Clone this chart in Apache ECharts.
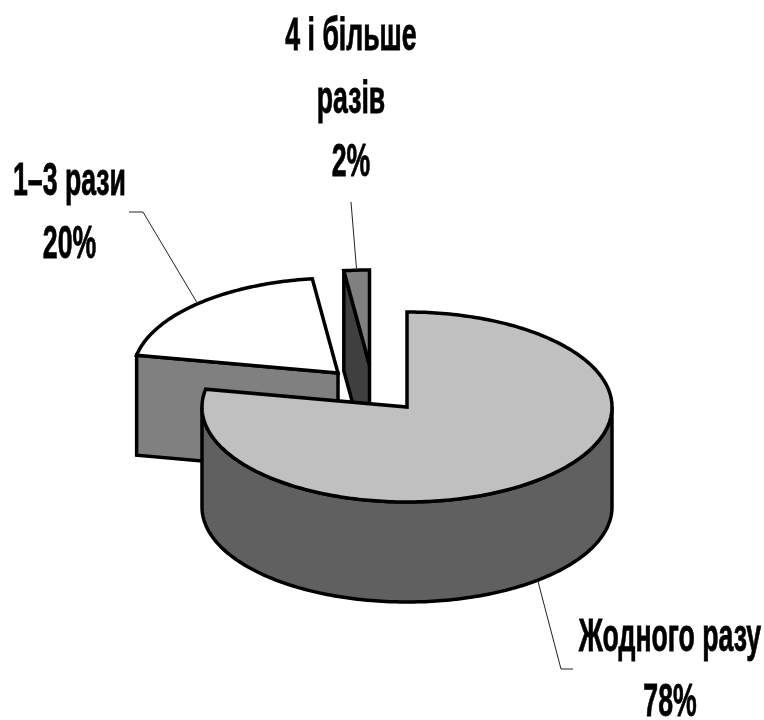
<!DOCTYPE html>
<html>
<head>
<meta charset="utf-8">
<style>
  html, body { margin: 0; padding: 0; background: #fff; }
  #chart { width: 764px; height: 720px; }
</style>
<script src="https://cdn.jsdelivr.net/npm/echarts@6/dist/echarts.min.js"></script>
</head>
<body>
<div id="chart"></div>
<script>
const categories = ['Жодного разу', '1–3 рази', '4 і більше\nразів']
const shares = [78, 20, 2]

// 3d pie look, ECharts has no such series so it is done in a custom one
const center = [407, 407]
const rx = 205
const ry = 95
const depth = 100
const explode = [[0, 0], [-69, -34], [-37.5, -42]]
const topColors = ['#c0c0c0', '#ffffff', '#808080']
const wallColors = ['#606060', '#808080', '#808080']
const faceColors = ['#606060', '#808080', '#404040']
const labelBoxes = [
  { x: 670, y: 671, lineHeight: 65, elbow: [561, 669], end: [573, 669] },
  { x: 69.5, y: 214, lineHeight: 63, elbow: [143, 212], end: [129, 212] },
  { x: 351, y: 100, lineHeight: 63, elbow: null, end: [351, 202] },
]

const total = shares.reduce((a, b) => a + b, 0)
const rad = (d) => (d * Math.PI) / 180

// angle runs clockwise from 12 o'clock
function rim(c, deg, down) {
  return [c[0] + rx * Math.sin(rad(deg)), c[1] - ry * Math.cos(rad(deg)) + (down || 0)]
}
function arc(c, from, to, down) {
  const pts = []
  const n = Math.max(2, Math.ceil(Math.abs(to - from)))
  for (let i = 0; i <= n; i++) pts.push(rim(c, from + ((to - from) * i) / n, down))
  return pts
}

function renderItem(params, api) {
  const i = params.dataIndex
  let before = 0
  for (let k = 0; k < i; k++) before += shares[k]
  const start = (before / total) * 360
  const end = start + (api.value(0) / total) * 360
  const mid = (start + end) / 2
  const c = [center[0] + explode[i][0], center[1] + explode[i][1]]
  const base = (3 - i) * 10 // main slice goes on top of the others
  const stroke = { stroke: '#000', lineWidth: 3.5, lineJoin: 'miter', miterLimit: 2 }
  const children = []

  const face = (deg, z) => {
    const p = rim(c, deg)
    children.push({
      type: 'polygon',
      z2: base + z,
      shape: { points: [c, p, [p[0], p[1] + depth], [c[0], c[1] + depth]] },
      style: { fill: faceColors[i], ...stroke },
    })
  }
  if (Math.sin(rad(start)) < -0.001) face(start, 1)
  if (Math.sin(rad(end)) > 0.001) face(end, 1)

  const wallFrom = Math.max(start, 90)
  const wallTo = Math.min(end, 270)
  if (wallTo > wallFrom) {
    children.push({
      type: 'polygon',
      z2: base + 2,
      shape: {
        points: arc(c, wallFrom, wallTo).concat(arc(c, wallTo, wallFrom, depth)),
      },
      style: { fill: wallColors[i], ...stroke },
    })
  }
  children.push({
    type: 'polygon',
    z2: base + 3,
    shape: { points: [c].concat(arc(c, start, end)) },
    style: { fill: topColors[i], ...stroke },
  })

  // leader line starts on the rim in the middle of the slice
  const box = labelBoxes[i]
  const front = mid > 90 && mid < 270
  const anchor = rim(c, mid, front ? depth : 0)
  children.push({
    type: 'polyline',
    z2: 100,
    shape: { points: [anchor].concat(box.elbow ? [box.elbow] : [], [box.end]) },
    style: { fill: null, stroke: '#222', lineWidth: 1 },
  })
  // no narrow font installed, so squeeze Liberation Sans Bold sideways
  children.push({
    type: 'text',
    z2: 101,
    x: box.x,
    y: box.y,
    scaleX: 0.58,
    style: {
      text: categories[i] + '\n' + api.value(0) + '%',
      x: 0,
      y: 0,
      fill: '#000',
      stroke: '#000',
      lineWidth: 0.8,
      font: 'bold 46px "Liberation Sans", sans-serif',
      lineHeight: box.lineHeight,
      textAlign: 'center',
      textVerticalAlign: 'middle',
    },
  })
  return { type: 'group', children }
}

const myChart = echarts.init(document.getElementById('chart'))
myChart.setOption({
  animation: false,
  backgroundColor: '#fff',
  series: [
    {
      type: 'custom',
      coordinateSystem: 'none',
      renderItem,
      data: shares.map((v, i) => ({ name: categories[i], value: [v] })),
    },
  ],
})
</script>
</body>
</html>
